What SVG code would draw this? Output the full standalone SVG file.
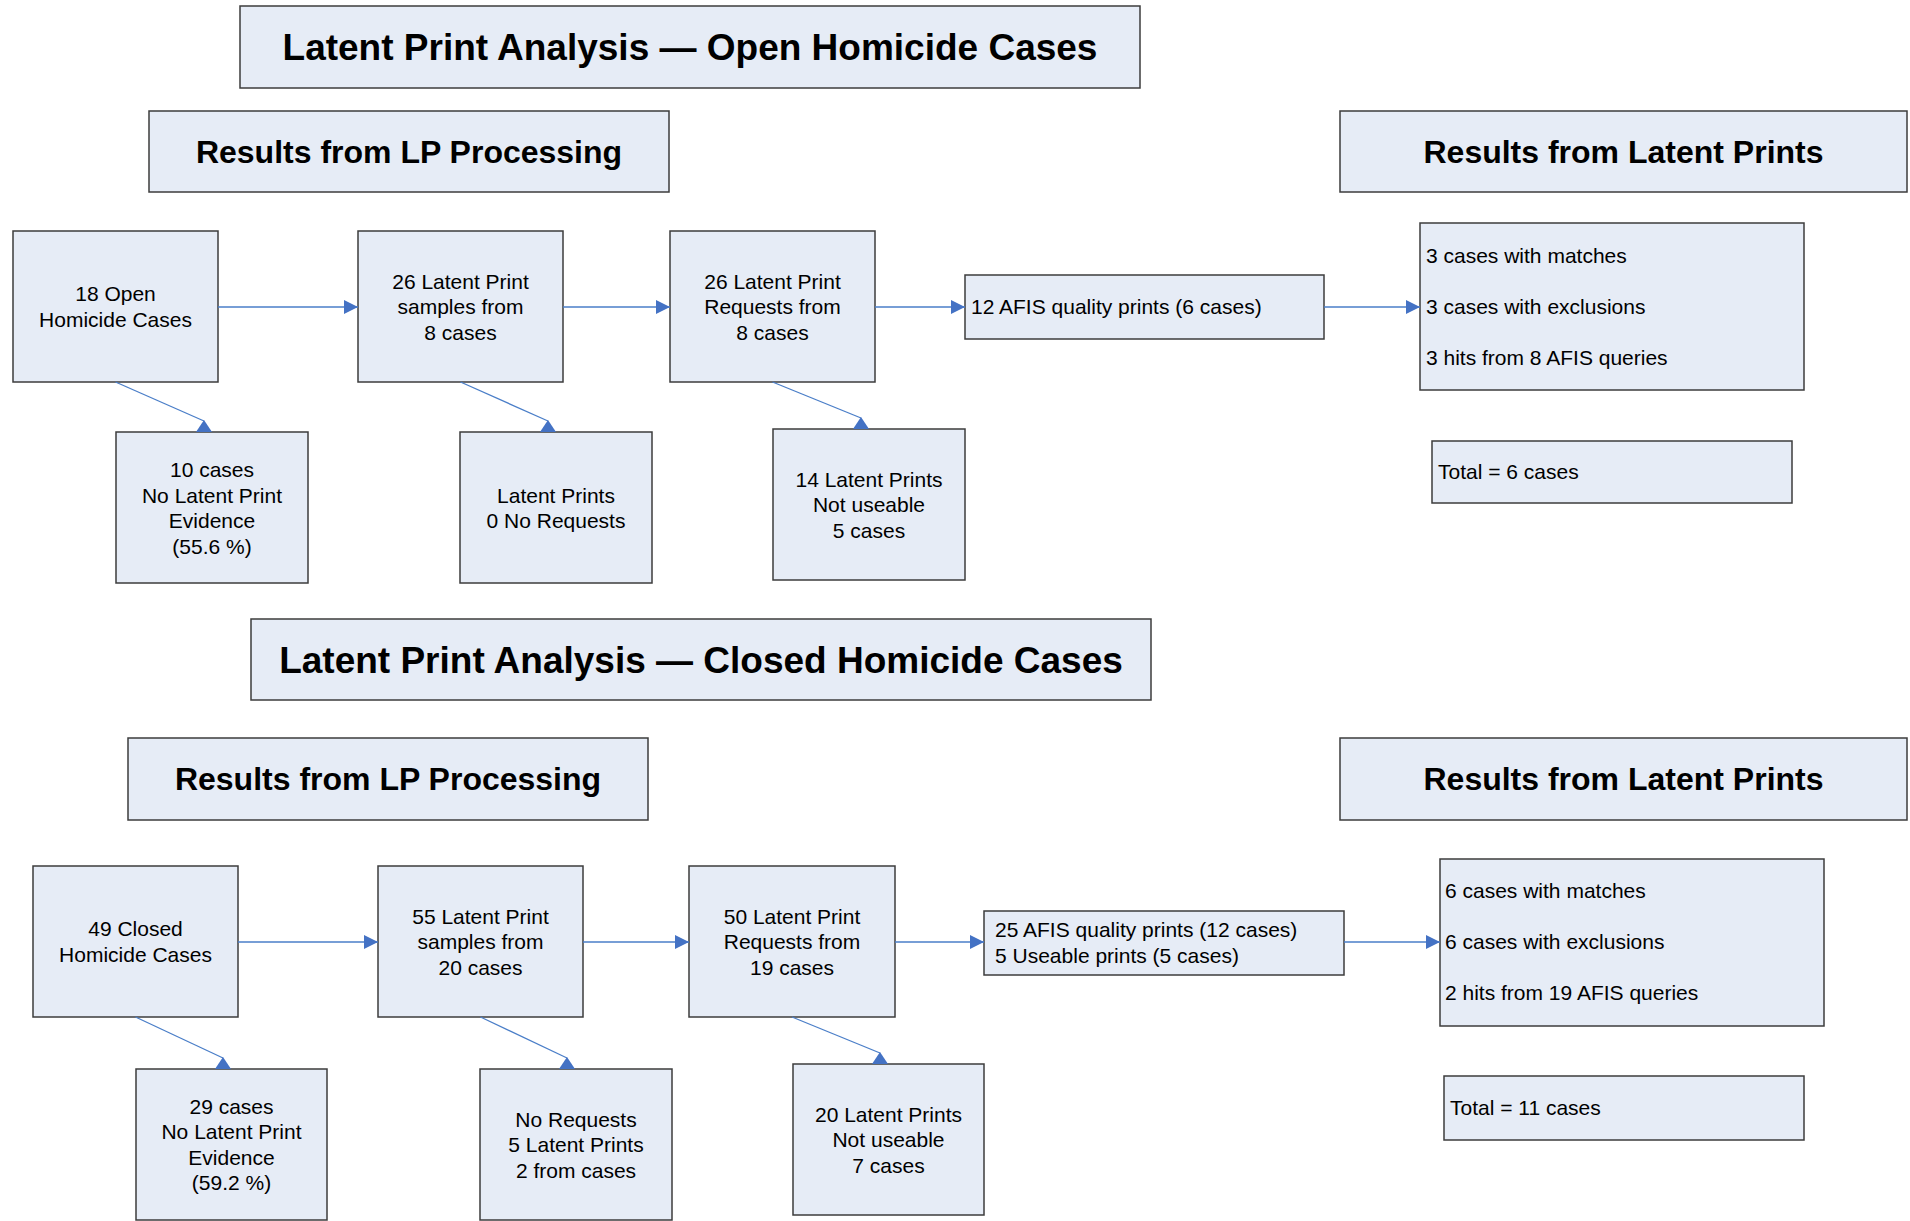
<svg xmlns="http://www.w3.org/2000/svg" width="1910" height="1221" viewBox="0 0 1910 1221">
  <style>
    .box { fill: #E6ECF6; stroke: #3c3c3c; stroke-width: 1.5; }
    .t { font-family: "Liberation Sans", Arial, sans-serif; font-size: 21px; fill: #000; }
    .c { text-anchor: middle; }
    .title { font-family: "Liberation Sans", Arial, sans-serif; font-size: 37px; font-weight: bold; fill: #000; text-anchor: middle; }
    .hdr { font-family: "Liberation Sans", Arial, sans-serif; font-size: 32px; font-weight: bold; fill: #000; text-anchor: middle; }
    .ln { stroke: #4A7EC8; stroke-width: 1.3; fill: none; }
    .ah { fill: #4472C4; }
  </style>
  <defs>
    <marker id="arr" viewBox="0 0 14 14" refX="14" refY="7" markerWidth="14" markerHeight="14" markerUnits="userSpaceOnUse" orient="auto">
      <path d="M0,0 L14,7 L0,14 Z" fill="#4472C4"/>
    </marker>
  </defs>

  <rect width="1910" height="1221" fill="#ffffff"/>

  <!-- ===== Open cases section ===== -->
  <g id="title-open">
    <rect class="box" x="240" y="6" width="900" height="82"/>
    <text class="title" x="690" y="60">Latent Print Analysis — Open Homicide Cases</text>
  </g>
  <g id="hdr-open-lp">
    <rect class="box" x="149" y="111" width="520" height="81"/>
    <text class="hdr" x="409" y="163">Results from LP Processing</text>
  </g>
  <g id="hdr-open-results">
    <rect class="box" x="1340" y="111" width="567" height="81"/>
    <text class="hdr" x="1623.5" y="163">Results from Latent Prints</text>
  </g>

  <g id="open-cases">
    <rect class="box" x="13" y="231" width="205" height="151"/>
    <text class="t c" x="115.5" y="301">18 Open</text>
    <text class="t c" x="115.5" y="326.5">Homicide Cases</text>
  </g>
  <g id="open-samples">
    <rect class="box" x="358" y="231" width="205" height="151"/>
    <text class="t c" x="460.5" y="288.5">26 Latent Print</text>
    <text class="t c" x="460.5" y="314">samples from</text>
    <text class="t c" x="460.5" y="339.5">8 cases</text>
  </g>
  <g id="open-requests">
    <rect class="box" x="670" y="231" width="205" height="151"/>
    <text class="t c" x="772.5" y="288.5">26 Latent Print</text>
    <text class="t c" x="772.5" y="314">Requests from</text>
    <text class="t c" x="772.5" y="339.5">8 cases</text>
  </g>
  <g id="open-afis">
    <rect class="box" x="965" y="275" width="359" height="64"/>
    <text class="t" x="971" y="314">12 AFIS quality prints (6 cases)</text>
  </g>
  <g id="open-results">
    <rect class="box" x="1420" y="223" width="384" height="167"/>
    <text class="t" x="1426" y="263">3 cases with matches</text>
    <text class="t" x="1426" y="314">3 cases with exclusions</text>
    <text class="t" x="1426" y="365">3 hits from 8 AFIS queries</text>
  </g>
  <g id="open-total">
    <rect class="box" x="1432" y="441" width="360" height="62"/>
    <text class="t" x="1438" y="479">Total = 6 cases</text>
  </g>
  <g id="open-no-evidence">
    <rect class="box" x="116" y="432" width="192" height="151"/>
    <text class="t c" x="212" y="477">10 cases</text>
    <text class="t c" x="212" y="502.5">No Latent Print</text>
    <text class="t c" x="212" y="528">Evidence</text>
    <text class="t c" x="212" y="553.5">(55.6 %)</text>
  </g>
  <g id="open-no-requests">
    <rect class="box" x="460" y="432" width="192" height="151"/>
    <text class="t c" x="556" y="502.5">Latent Prints</text>
    <text class="t c" x="556" y="528">0 No Requests</text>
  </g>
  <g id="open-not-useable">
    <rect class="box" x="773" y="429" width="192" height="151"/>
    <text class="t c" x="869" y="486.5">14 Latent Prints</text>
    <text class="t c" x="869" y="512">Not useable</text>
    <text class="t c" x="869" y="537.5">5 cases</text>
  </g>

  <!-- ===== Closed cases section ===== -->
  <g id="title-closed">
    <rect class="box" x="251" y="619" width="900" height="81"/>
    <text class="title" x="701" y="673">Latent Print Analysis — Closed Homicide Cases</text>
  </g>
  <g id="hdr-closed-lp">
    <rect class="box" x="128" y="738" width="520" height="82"/>
    <text class="hdr" x="388" y="790">Results from LP Processing</text>
  </g>
  <g id="hdr-closed-results">
    <rect class="box" x="1340" y="738" width="567" height="82"/>
    <text class="hdr" x="1623.5" y="790">Results from Latent Prints</text>
  </g>

  <g id="closed-cases">
    <rect class="box" x="33" y="866" width="205" height="151"/>
    <text class="t c" x="135.5" y="936">49 Closed</text>
    <text class="t c" x="135.5" y="961.5">Homicide Cases</text>
  </g>
  <g id="closed-samples">
    <rect class="box" x="378" y="866" width="205" height="151"/>
    <text class="t c" x="480.5" y="923.5">55 Latent Print</text>
    <text class="t c" x="480.5" y="949">samples from</text>
    <text class="t c" x="480.5" y="974.5">20 cases</text>
  </g>
  <g id="closed-requests">
    <rect class="box" x="689" y="866" width="206" height="151"/>
    <text class="t c" x="792" y="923.5">50 Latent Print</text>
    <text class="t c" x="792" y="949">Requests from</text>
    <text class="t c" x="792" y="974.5">19 cases</text>
  </g>
  <g id="closed-afis">
    <rect class="box" x="984" y="911" width="360" height="64"/>
    <text class="t" x="995" y="937">25 AFIS quality prints (12 cases)</text>
    <text class="t" x="995" y="963">5 Useable prints (5 cases)</text>
  </g>
  <g id="closed-results">
    <rect class="box" x="1440" y="859" width="384" height="167"/>
    <text class="t" x="1445" y="898">6 cases with matches</text>
    <text class="t" x="1445" y="949">6 cases with exclusions</text>
    <text class="t" x="1445" y="1000">2 hits from 19 AFIS queries</text>
  </g>
  <g id="closed-total">
    <rect class="box" x="1444" y="1076" width="360" height="64"/>
    <text class="t" x="1450" y="1115">Total = 11 cases</text>
  </g>
  <g id="closed-no-evidence">
    <rect class="box" x="136" y="1069" width="191" height="151"/>
    <text class="t c" x="231.5" y="1113.5">29 cases</text>
    <text class="t c" x="231.5" y="1139">No Latent Print</text>
    <text class="t c" x="231.5" y="1164.5">Evidence</text>
    <text class="t c" x="231.5" y="1190">(59.2 %)</text>
  </g>
  <g id="closed-no-requests">
    <rect class="box" x="480" y="1069" width="192" height="151"/>
    <text class="t c" x="576" y="1126.5">No Requests</text>
    <text class="t c" x="576" y="1152">5 Latent Prints</text>
    <text class="t c" x="576" y="1177.5">2 from cases</text>
  </g>
  <g id="closed-not-useable">
    <rect class="box" x="793" y="1064" width="191" height="151"/>
    <text class="t c" x="888.5" y="1121.5">20 Latent Prints</text>
    <text class="t c" x="888.5" y="1147">Not useable</text>
    <text class="t c" x="888.5" y="1172.5">7 cases</text>
  </g>

  <!-- ===== Connectors ===== -->
  <g id="connectors">
    <!-- open: main flow -->
    <line class="ln" x1="218" y1="307" x2="358" y2="307" marker-end="url(#arr)"/>
    <line class="ln" x1="563" y1="307" x2="670" y2="307" marker-end="url(#arr)"/>
    <line class="ln" x1="875" y1="307" x2="965" y2="307" marker-end="url(#arr)"/>
    <line class="ln" x1="1324" y1="307" x2="1420" y2="307" marker-end="url(#arr)"/>
    <!-- open: branches down -->
    <line class="ln" x1="115.5" y1="382" x2="204" y2="421"/>
    <polygon class="ah" points="204,420 212,432 196,432"/>
    <line class="ln" x1="460.5" y1="382" x2="548" y2="421"/>
    <polygon class="ah" points="548,420 556,432 540,432"/>
    <line class="ln" x1="772.5" y1="382" x2="861" y2="418"/>
    <polygon class="ah" points="861,417 869,429 853,429"/>

    <!-- closed: main flow -->
    <line class="ln" x1="238" y1="942" x2="378" y2="942" marker-end="url(#arr)"/>
    <line class="ln" x1="583" y1="942" x2="689" y2="942" marker-end="url(#arr)"/>
    <line class="ln" x1="895" y1="942" x2="984" y2="942" marker-end="url(#arr)"/>
    <line class="ln" x1="1344" y1="942" x2="1440" y2="942" marker-end="url(#arr)"/>
    <!-- closed: branches down -->
    <line class="ln" x1="135.5" y1="1017" x2="223" y2="1058"/>
    <polygon class="ah" points="223,1057 231,1069 215,1069"/>
    <line class="ln" x1="480.5" y1="1017" x2="567" y2="1058"/>
    <polygon class="ah" points="567,1057 575,1069 559,1069"/>
    <line class="ln" x1="792" y1="1017" x2="880" y2="1053"/>
    <polygon class="ah" points="880,1052 888,1064 872,1064"/>
  </g>
</svg>
